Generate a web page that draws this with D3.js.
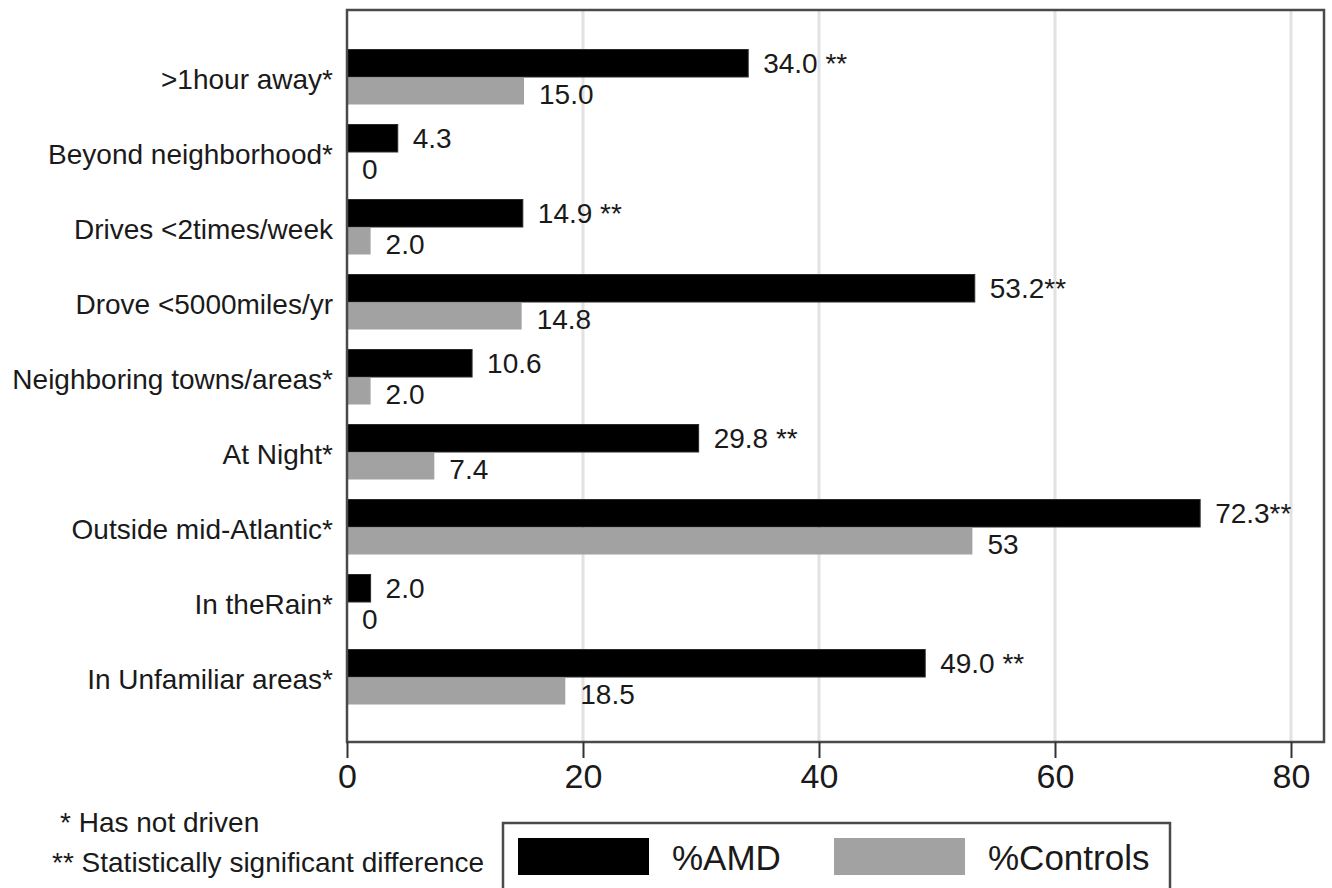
<!DOCTYPE html>
<html>
<head>
<meta charset="utf-8">
<script src="https://cdn.jsdelivr.net/npm/d3@7"></script>
<style>
  body { margin: 0; background: #fff; }
  text { font-family: "Liberation Sans", Arial, sans-serif; fill: #1a1a1a; }
</style>
</head>
<body>
<div id="chart"></div>
<script>
// values
var categories = [">1hour away*", "Beyond neighborhood*", "Drives <2times/week",
    "Drove <5000miles/yr", "Neighboring towns/areas*", "At Night*",
    "Outside mid-Atlantic*", "In theRain*", "In Unfamiliar areas*"];
var amd = [34.0, 4.3, 14.9, 53.2, 10.6, 29.8, 72.3, 2.0, 49.0];
var controls = [15.0, 0, 2.0, 14.8, 2.0, 7.4, 53, 0, 18.5];
var amdLabels = ["34.0 **", "4.3", "14.9 **", "53.2**", "10.6", "29.8 **", "72.3**", "2.0", "49.0 **"];
var controlLabels = ["15.0", "0", "2.0", "14.8", "2.0", "7.4", "53", "0", "18.5"];
var xTicks = [0, 20, 40, 60, 80];
var seriesNames = ["%AMD", "%Controls"];
var seriesColors = ["#000000", "#a2a2a2"];
var footnotes = ["* Has not driven", "** Statistically significant difference"];

var W = 1332, H = 888;
var plot = {left: 347, right: 1324, top: 10, bottom: 742};

var svg = d3.select("#chart").append("svg")
    .attr("width", W).attr("height", H);

var x = d3.scaleLinear().domain([0, 80]).range([347, 1291]);
var y = d3.scaleBand().domain(categories).range([39.5, 714.5])
    .paddingInner(0.2667).paddingOuter(0.1333);
var half = y.bandwidth() / 2;

// gridlines
svg.append("g").selectAll("line")
    .data(xTicks.slice(1))
    .enter().append("line")
    .attr("x1", function (d) { return x(d); })
    .attr("x2", function (d) { return x(d); })
    .attr("y1", plot.top).attr("y2", plot.bottom)
    .attr("stroke", "#e2e2e2").attr("stroke-width", 3);

// bars
var rows = svg.append("g").selectAll("g")
    .data(categories)
    .enter().append("g");

rows.append("rect")
    .attr("x", x(0))
    .attr("y", function (d) { return y(d); })
    .attr("width", function (d, i) { return x(amd[i]) - x(0); })
    .attr("height", half)
    .attr("fill", seriesColors[0])
    .attr("stroke", "#2a2a2a").attr("stroke-width", 1);

rows.append("rect")
    .attr("x", x(0))
    .attr("y", function (d) { return y(d) + half + 1; })
    .attr("width", function (d, i) { return x(controls[i]) - x(0); })
    .attr("height", half - 1)
    .attr("fill", seriesColors[1]);

// value labels
rows.append("text")
    .attr("x", function (d, i) { return x(amd[i]) + 15; })
    .attr("y", function (d) { return y(d) + half / 2; })
    .attr("dy", "0.36em")
    .style("font-size", "28px")
    .text(function (d, i) { return amdLabels[i]; });

rows.append("text")
    .attr("x", function (d, i) { return x(controls[i]) + 15; })
    .attr("y", function (d) { return y(d) + half * 1.5 + 3; })
    .attr("dy", "0.36em")
    .style("font-size", "28px")
    .text(function (d, i) { return controlLabels[i]; });

// category labels
svg.append("g").selectAll("text")
    .data(categories)
    .enter().append("text")
    .attr("x", 333)
    .attr("y", function (d) { return y(d) + half + 2; })
    .attr("dy", "0.36em")
    .attr("text-anchor", "end")
    .style("font-size", "28px")
    .text(function (d) { return d; });

// frame
svg.append("rect")
    .attr("x", plot.left).attr("y", plot.top)
    .attr("width", plot.right - plot.left).attr("height", plot.bottom - plot.top)
    .attr("fill", "none").attr("stroke", "#4a4a4a").attr("stroke-width", 2.5);

// x axis
var xAxis = svg.append("g")
    .attr("transform", "translate(0," + plot.bottom + ")")
    .call(d3.axisBottom(x).tickValues(xTicks).tickSize(16).tickPadding(6));
xAxis.select(".domain").remove();
xAxis.selectAll(".tick line").attr("stroke", "#333").attr("stroke-width", 2);
xAxis.selectAll(".tick text")
    .style("font-size", "34px").style("font-family", "Liberation Sans, Arial, sans-serif")
    .attr("fill", "#1a1a1a");

// footnotes
svg.append("g").selectAll("text")
    .data(footnotes)
    .enter().append("text")
    .attr("x", function (d, i) { return i === 0 ? 60 : 52; })
    .attr("y", function (d, i) { return 822 + i * 40; })
    .attr("dy", "0.36em")
    .style("font-size", "28px")
    .text(function (d) { return d; });

// legend
var legend = svg.append("g");
legend.append("rect")
    .attr("x", 503).attr("y", 823).attr("width", 667).attr("height", 80)
    .attr("fill", "#fff").attr("stroke", "#4a4a4a").attr("stroke-width", 2.5);
var items = legend.selectAll("g.item")
    .data(seriesNames)
    .enter().append("g")
    .attr("transform", function (d, i) { return "translate(" + (518 + i * 316) + ",838)"; });
items.append("rect")
    .attr("width", 131).attr("height", 37)
    .attr("fill", function (d, i) { return seriesColors[i]; });
items.append("text")
    .attr("x", 154).attr("y", 19).attr("dy", "0.36em")
    .style("font-size", "35px")
    .text(function (d) { return d; });
</script>
</body>
</html>
